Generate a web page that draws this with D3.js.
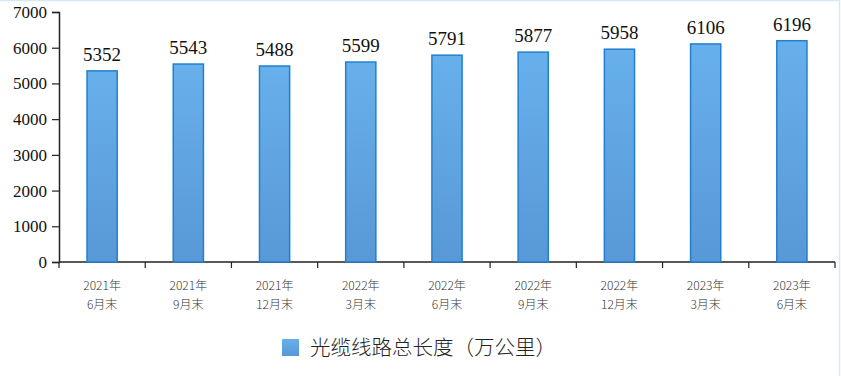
<!DOCTYPE html>
<html>
<head>
<meta charset="utf-8">
<script src="https://cdn.jsdelivr.net/npm/d3@7"></script>
<style>
  body { margin: 0; background: #fff; }
  svg { display: block; }
</style>
</head>
<body>
<svg id="chart"></svg>
<script>
// data
const periods = ["2021年|6月末", "2021年|9月末", "2021年|12月末", "2022年|3月末", "2022年|6月末",
                 "2022年|9月末", "2022年|12月末", "2023年|3月末", "2023年|6月末"];
const lengths = [5352, 5543, 5488, 5599, 5791, 5877, 5958, 6106, 6196];
const yTicks = [0, 1000, 2000, 3000, 4000, 5000, 6000, 7000];
const seriesName = "光缆线路总长度（万公里）";

const W = 841, H = 376;
const margin = { top: 12, right: 6, bottom: 114, left: 59 },
    width = W - margin.left - margin.right,
    height = H - margin.top - margin.bottom;

const root = d3.select("#chart").attr("width", W).attr("height", H);

// light frame on top and right edges only
root.append("path")
    .attr("d", `M0,0.5H${W - 1.5}V${H}`)
    .attr("fill", "none")
    .attr("stroke", "#d5e9f8")
    .attr("stroke-width", 1.5);

const defs = root.append("defs");
const grad = defs.append("linearGradient")
    .attr("id", "barGrad").attr("x1", 0).attr("y1", 0).attr("x2", 0).attr("y2", 1);
grad.append("stop").attr("offset", "0%").attr("stop-color", "#67b0ec");
grad.append("stop").attr("offset", "100%").attr("stop-color", "#5898d6");

const svg = root.append("g")
    .attr("transform", `translate(${margin.left}, ${margin.top})`);

const xScale = d3.scaleBand()
    .domain(periods)
    .range([0, width])
    .paddingInner(0.65)
    .paddingOuter(0.325);

const yScale = d3.scaleLinear()
    .domain([0, 7000])
    .range([height, 0]);

// Y axis
const yAxis = svg.append("g")
    .call(d3.axisLeft(yScale).tickValues(yTicks).tickSize(7).tickPadding(5).tickFormat(d3.format("d")));
yAxis.attr("font-family", "'Liberation Serif', 'Times New Roman', serif");
yAxis.select(".domain").attr("stroke", "#222").attr("stroke-width", 1.5);
yAxis.selectAll(".tick line").attr("stroke", "#222").attr("stroke-width", 1.2);
yAxis.selectAll("text")
    .attr("font-family", "'Liberation Serif', 'Times New Roman', serif")
    .attr("font-size", 17)
    .attr("fill", "#111");

// X axis: ticks between categories
const xAxis = svg.append("g").attr("transform", `translate(0, ${height})`);
xAxis.append("line")
    .attr("x1", 0).attr("x2", width)
    .attr("stroke", "#222").attr("stroke-width", 1.5);
const step = xScale.step();
d3.range(periods.length + 1).forEach(i => {
    xAxis.append("line")
        .attr("x1", i * step).attr("x2", i * step)
        .attr("y1", 0).attr("y2", 6)
        .attr("stroke", "#222").attr("stroke-width", 1.2);
});
periods.forEach(p => {
    const lines = p.split("|");
    const cx = xScale(p) + xScale.bandwidth() / 2;
    const t = xAxis.append("text")
        .attr("x", cx)
        .attr("y", 28)
        .attr("text-anchor", "middle")
        .attr("font-family", "'Noto Sans CJK SC', sans-serif")
        .attr("font-size", 12)
        .attr("font-weight", 300)
        .attr("fill", "#333");
    t.append("tspan").attr("x", cx).attr("dy", 0).text(lines[0]);
    t.append("tspan").attr("x", cx).attr("dy", 19).text(lines[1]);
});

// bars
svg.selectAll(".bar")
    .data(lengths)
    .join("rect")
    .attr("class", "bar")
    .attr("x", (d, i) => xScale(periods[i]))
    .attr("y", d => yScale(d))
    .attr("width", xScale.bandwidth())
    .attr("height", d => height - yScale(d))
    .attr("fill", "url(#barGrad)")
    .attr("stroke", "#2080cf")
    .attr("stroke-width", 1.5);

// value labels
svg.selectAll(".val")
    .data(lengths)
    .join("text")
    .attr("class", "val")
    .attr("x", (d, i) => xScale(periods[i]) + xScale.bandwidth() / 2)
    .attr("y", d => yScale(d) - 10)
    .attr("text-anchor", "middle")
    .attr("font-family", "'Liberation Serif', 'Times New Roman', serif")
    .attr("font-size", 19)
    .attr("fill", "#111")
    .text(d => d);

// legend
const legend = root.append("g").attr("transform", "translate(282, 339)");
legend.append("rect")
    .attr("width", 17).attr("height", 17)
    .attr("fill", "url(#barGrad)");
legend.append("text")
    .attr("x", 28).attr("y", 16)
    .attr("font-family", "'Noto Sans CJK SC', sans-serif")
    .attr("font-size", 20.5)
    .attr("font-weight", 300)
    .attr("fill", "#222")
    .text(seriesName);
</script>
</body>
</html>
